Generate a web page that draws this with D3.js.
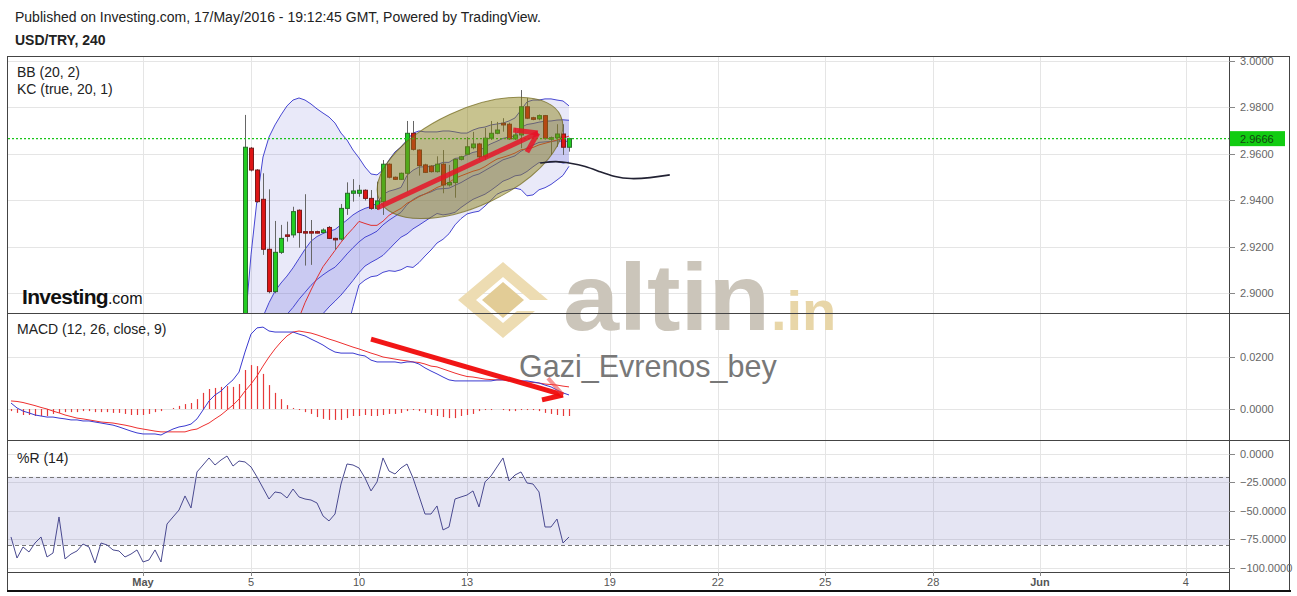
<!DOCTYPE html>
<html><head><meta charset="utf-8">
<script src="https://cdn.jsdelivr.net/npm/d3@7"></script>
<style>
html,body{margin:0;padding:0;background:#fff;}
svg{display:block;font-family:Arial,"Liberation Sans",sans-serif;}
</style></head><body>
<svg id="c" width="1297" height="596"></svg>
<script>
// ---------- DATA ----------
const dateTickIdx = [22, 40, 58, 76, 99.8, 117.8, 135.7, 153.7, 171.5, 195.8];
const dateTickLabels = ["May", "5", "10", "13", "19", "22", "25", "28", "Jun", "4"];
const boldDateTicks = ["May", "Jun"];
const priceTicks = [2.90, 2.92, 2.94, 2.96, 2.98, 3.00];
const macdTicks = [0, 0.02];
const wrTicks = [0, -25, -50, -75, -100];
const lastPrice = 2.9666;

const candleStart = 39;
const cOpen = [2.8700,2.9625,2.9531,2.9405,2.9190,2.9008,2.9177,2.9252,2.9252,2.9358,2.9266,2.9266,2.9266,2.9262,2.9284,2.9237,2.9234,2.9366,2.9431,2.9431,2.9444,2.9409,2.9366,2.9395,2.9556,2.9500,2.9491,2.9517,2.9689,2.9617,2.9553,2.9548,2.9524,2.9556,2.9467,2.9477,2.9577,2.9599,2.9627,2.9643,2.9588,2.9668,2.9689,2.9732,2.9728,2.9665,2.9682,2.9803,2.9756,2.9751,2.9765,2.9665,2.9670,2.9686,2.9629];
const cHigh = [2.9768,2.9630,2.9535,2.9517,2.9448,2.9312,2.9295,2.9309,2.9373,2.9362,2.9427,2.9316,2.9270,2.9280,2.9290,2.9240,2.9385,2.9478,2.9492,2.9467,2.9448,2.9445,2.9481,2.9574,2.9560,2.9503,2.9520,2.9742,2.9742,2.9620,2.9558,2.9552,2.9590,2.9617,2.9553,2.9580,2.9592,2.9673,2.9695,2.9648,2.9712,2.9742,2.9738,2.9754,2.9735,2.9712,2.9875,2.9840,2.9760,2.9770,2.9768,2.9675,2.9728,2.9728,2.9670];
const cLow = [2.8680,2.9525,2.9390,2.9166,2.9001,2.9001,2.9170,2.9223,2.9240,2.9197,2.9120,2.9123,2.9258,2.9258,2.9234,2.9187,2.9228,2.9338,2.9395,2.9416,2.9400,2.9360,2.9359,2.9338,2.9495,2.9488,2.9488,2.9438,2.9615,2.9507,2.9518,2.9520,2.9520,2.9431,2.9460,2.9412,2.9572,2.9595,2.9620,2.9575,2.9574,2.9660,2.9685,2.9696,2.9660,2.9660,2.9625,2.9750,2.9745,2.9745,2.9662,2.9596,2.9631,2.9596,2.9610];
const cClose = [2.9629,2.9531,2.9395,2.9190,2.9008,2.9177,2.9237,2.9250,2.9352,2.9262,2.9264,2.9262,2.9262,2.9273,2.9237,2.9234,2.9366,2.9431,2.9441,2.9444,2.9409,2.9366,2.9398,2.9556,2.9500,2.9491,2.9517,2.9689,2.9620,2.9550,2.9521,2.9524,2.9556,2.9467,2.9477,2.9577,2.9588,2.9631,2.9643,2.9588,2.9668,2.9689,2.9703,2.9725,2.9665,2.9682,2.9803,2.9754,2.9749,2.9765,2.9668,2.9670,2.9686,2.9629,2.9666];

// Bollinger (20,2): upper, basis (red), lower; bars 39..93
const bbUpper = [2.8860,2.9166,2.9402,2.9587,2.9673,2.9725,2.9768,2.9807,2.9832,2.9841,2.9832,2.9815,2.9794,2.9776,2.9759,2.9733,2.9690,2.9660,2.9617,2.9583,2.9544,2.9514,2.9510,2.9531,2.9574,2.9609,2.9630,2.9660,2.9690,2.9699,2.9695,2.9695,2.9695,2.9699,2.9699,2.9695,2.9690,2.9690,2.9703,2.9712,2.9716,2.9725,2.9729,2.9733,2.9742,2.9755,2.9789,2.9824,2.9832,2.9832,2.9837,2.9837,2.9832,2.9828,2.9807];
const bbBasis = [2.8660,2.8705,2.8740,2.8760,2.8770,2.8790,2.8810,2.8830,2.8860,2.8895,2.8960,2.9015,2.9067,2.9115,2.9150,2.9185,2.9220,2.9252,2.9280,2.9310,2.9301,2.9293,2.9293,2.9311,2.9336,2.9352,2.9366,2.9388,2.9401,2.9416,2.9428,2.9441,2.9456,2.9466,2.9478,2.9495,2.9506,2.9516,2.9526,2.9533,2.9546,2.9563,2.9578,2.9586,2.9594,2.9604,2.9618,2.9622,2.9628,2.9639,2.9646,2.9653,2.9660,2.9668,2.9677];
const bbLower = [2.8380,2.8150,2.8000,2.7900,2.7850,2.7800,2.7780,2.7780,2.7800,2.7950,2.8090,2.8215,2.8340,2.8454,2.8541,2.8637,2.8750,2.8844,2.8943,2.9037,2.9058,2.9072,2.9076,2.9091,2.9098,2.9095,2.9102,2.9116,2.9112,2.9133,2.9161,2.9187,2.9217,2.9233,2.9257,2.9295,2.9322,2.9342,2.9349,2.9354,2.9376,2.9401,2.9427,2.9439,2.9446,2.9453,2.9447,2.9420,2.9424,2.9446,2.9455,2.9469,2.9488,2.9508,2.9547];
// Keltner (true,20,1): upper, middle, lower; bars 39..93
const kcUpper = [2.8700,2.8780,2.8840,2.8900,2.8960,2.9010,2.9045,2.9075,2.9110,2.9150,2.9190,2.9225,2.9245,2.9258,2.9268,2.9275,2.9296,2.9316,2.9338,2.9354,2.9366,2.9374,2.9388,2.9426,2.9440,2.9447,2.9456,2.9508,2.9530,2.9544,2.9545,2.9546,2.9554,2.9564,2.9564,2.9581,2.9584,2.9596,2.9607,2.9612,2.9631,2.9644,2.9655,2.9667,2.9673,2.9678,2.9714,2.9727,2.9731,2.9737,2.9741,2.9742,2.9746,2.9747,2.9745];
const kcMid = [2.8650,2.8720,2.8770,2.8800,2.8820,2.8850,2.8880,2.8910,2.8940,2.8975,2.9005,2.9035,2.9060,2.9080,2.9098,2.9113,2.9140,2.9170,2.9197,2.9222,2.9242,2.9254,2.9268,2.9295,2.9315,2.9332,2.9349,2.9382,2.9404,2.9419,2.9428,2.9437,2.9449,2.9451,2.9453,2.9465,2.9477,2.9492,2.9506,2.9514,2.9529,2.9544,2.9559,2.9575,2.9583,2.9592,2.9612,2.9626,2.9638,2.9650,2.9652,2.9654,2.9657,2.9654,2.9655];
const kcLower = [2.8474,2.8551,2.8603,2.8615,2.8610,2.8630,2.8669,2.8711,2.8747,2.8785,2.8804,2.8835,2.8878,2.8913,2.8942,2.8967,2.8993,2.9024,2.9056,2.9090,2.9118,2.9134,2.9148,2.9164,2.9190,2.9217,2.9242,2.9256,2.9278,2.9294,2.9311,2.9328,2.9344,2.9338,2.9342,2.9349,2.9370,2.9388,2.9405,2.9416,2.9427,2.9444,2.9463,2.9483,2.9493,2.9506,2.9510,2.9525,2.9545,2.9563,2.9563,2.9566,2.9568,2.9561,2.9565];

// MACD (12,26,close,9), bars 0..93
const macdLine = [0.0023,0.0004,-0.0008,-0.0015,-0.0023,-0.0027,-0.0031,-0.0031,-0.0035,-0.0038,-0.0042,-0.0042,-0.0046,-0.0046,-0.0050,-0.0054,-0.0058,-0.0062,-0.0069,-0.0077,-0.0085,-0.0092,-0.0096,-0.0096,-0.0096,-0.0100,-0.0088,-0.0077,-0.0069,-0.0065,-0.0058,-0.0038,-0.0004,0.0031,0.0054,0.0069,0.0092,0.0112,0.0142,0.0219,0.0288,0.0312,0.0315,0.0300,0.0296,0.0296,0.0296,0.0296,0.0288,0.0281,0.0269,0.0258,0.0246,0.0231,0.0219,0.0215,0.0215,0.0215,0.0208,0.0204,0.0188,0.0181,0.0181,0.0181,0.0181,0.0177,0.0181,0.0181,0.0173,0.0158,0.0146,0.0135,0.0123,0.0112,0.0108,0.0108,0.0108,0.0108,0.0108,0.0108,0.0108,0.0112,0.0112,0.0112,0.0108,0.0108,0.0108,0.0104,0.0100,0.0092,0.0085,0.0073,0.0062,0.0054];
const signalLine = [0.0031,0.0029,0.0025,0.0019,0.0013,0.0006,0.0000,-0.0008,-0.0015,-0.0023,-0.0029,-0.0035,-0.0038,-0.0042,-0.0046,-0.0050,-0.0052,-0.0054,-0.0058,-0.0062,-0.0067,-0.0073,-0.0077,-0.0081,-0.0085,-0.0088,-0.0088,-0.0088,-0.0088,-0.0088,-0.0081,-0.0077,-0.0065,-0.0054,-0.0038,-0.0023,-0.0004,0.0015,0.0038,0.0069,0.0096,0.0127,0.0165,0.0200,0.0231,0.0258,0.0281,0.0296,0.0300,0.0296,0.0292,0.0285,0.0277,0.0269,0.0262,0.0254,0.0246,0.0238,0.0231,0.0223,0.0215,0.0208,0.0200,0.0196,0.0192,0.0188,0.0185,0.0181,0.0179,0.0173,0.0165,0.0162,0.0154,0.0146,0.0138,0.0131,0.0125,0.0123,0.0119,0.0115,0.0113,0.0112,0.0112,0.0110,0.0108,0.0106,0.0104,0.0102,0.0100,0.0096,0.0094,0.0092,0.0088,0.0085];
const macdHist = [-0.0008,-0.0015,-0.0023,-0.0023,-0.0027,-0.0027,-0.0027,-0.0019,-0.0015,-0.0012,-0.0012,-0.0012,-0.0008,-0.0008,-0.0012,-0.0012,-0.0012,-0.0015,-0.0015,-0.0019,-0.0023,-0.0023,-0.0023,-0.0019,-0.0012,-0.0008,0.0000,0.0004,0.0012,0.0019,0.0023,0.0038,0.0062,0.0077,0.0081,0.0085,0.0088,0.0085,0.0096,0.0150,0.0169,0.0165,0.0135,0.0092,0.0062,0.0038,0.0015,0.0004,-0.0004,-0.0012,-0.0019,-0.0031,-0.0038,-0.0042,-0.0042,-0.0042,-0.0035,-0.0027,-0.0027,-0.0023,-0.0027,-0.0027,-0.0023,-0.0019,-0.0019,-0.0015,-0.0008,-0.0004,-0.0008,-0.0015,-0.0023,-0.0027,-0.0031,-0.0035,-0.0035,-0.0027,-0.0023,-0.0019,-0.0008,-0.0004,-0.0004,0.0000,-0.0004,-0.0008,-0.0008,-0.0004,-0.0004,-0.0004,-0.0008,-0.0015,-0.0019,-0.0023,-0.0027,-0.0027];

// Williams %R (14), bars 0..93
const williamsR = [-73.0,-91.5,-81.8,-86.2,-78.3,-73.0,-90.6,-87.1,-55.4,-92.3,-88.0,-85.3,-79.2,-81.8,-95.9,-78.3,-80.0,-84.4,-85.3,-90.6,-88.0,-84.4,-95.0,-93.2,-84.4,-95.0,-61.6,-55.4,-49.3,-36.9,-47.5,-15.8,-9.7,-3.5,-9.7,-5.3,-1.8,-10.6,-6.2,-7.0,-11.4,-20.2,-29.9,-39.6,-33.4,-34.3,-38.7,-30.8,-37.8,-39.6,-40.5,-43.1,-54.5,-58.9,-52.8,-26.4,-8.8,-9.7,-12.3,-21.1,-32.5,-24.6,-3.5,-15.0,-17.6,-12.3,-8.8,-21.1,-36.9,-52.8,-52.8,-45.7,-66.8,-64.2,-39.6,-37.8,-36.1,-32.5,-46.6,-24.6,-19.3,-11.4,-3.5,-23.7,-18.5,-15.8,-25.5,-26.4,-33.4,-64.2,-64.2,-57.2,-78.3,-73.0];
const wrBand = [-20, -80];

// Hand-drawn annotations (bar index, value)
const priceArrow = [[61.0, 2.9368], [87.8, 2.9690]];
const priceArrowHeads = [[[83.7, 2.9703], [87.8, 2.9690]], [[86.0, 2.9608], [87.8, 2.9690]]];
const macdArrow = [[60.0, 0.0269], [92.0, 0.0054]];
const macdArrowHeads = [[[88.5, 0.0035], [92.0, 0.0054]], [[89.5, 0.0119], [92.0, 0.0054]]];
const projection = [[88.2, 2.9561], [90.8, 2.9570], [93.2, 2.9561], [95.7, 2.9548], [98.2, 2.9523], [100.7, 2.9501], [103.2, 2.9492], [106.5, 2.9497], [109.8, 2.9510]];
const ellipseCenter = [76.5, 2.9583];

// ---------- LAYOUT ----------
const svg = d3.select('#c');
const L = 8, R = 1229, FR = 1290, TOP = 56, BOT = 591;
const PP = [56, 313], MP = [313, 440], WP = [440, 572];
const x = d3.scaleLinear().domain([-0.5, 203]).range([L, R]);
const yP = d3.scaleLinear().domain([2.8916, 3.00215]).range([PP[1], PP[0]]);
const yM = d3.scaleLinear().domain([-0.011923, 0.036923]).range([MP[1], MP[0]]);
const yR = d3.scaleLinear().domain([-103.8, 12.3]).range([WP[1], WP[0]]);

const defs = svg.append('defs');
[['cp', PP], ['cm', MP], ['cw', WP]].forEach(([id, p]) => {
  defs.append('clipPath').attr('id', id).append('rect').attr('x', L).attr('y', p[0]).attr('width', R - L).attr('height', p[1] - p[0]);
});
svg.append('rect').attr('width', 1297).attr('height', 596).attr('fill', '#fff');

// header
svg.append('text').attr('x', 15).attr('y', 22).attr('font-size', 14).attr('fill', '#222')
  .text('Published on Investing.com, 17/May/2016 - 19:12:45 GMT, Powered by TradingView.');
svg.append('text').attr('x', 15).attr('y', 45).attr('font-size', 14).attr('font-weight', 'bold').attr('fill', '#222')
  .text('USD/TRY, 240');

// grid
const grid = svg.append('g').style('stroke', '#e5e5e5').attr('stroke-width', 1).attr('shape-rendering', 'crispEdges');
priceTicks.forEach(t => grid.append('line').attr('x1', L).attr('x2', R).attr('y1', Math.round(yP(t)) + 0.5).attr('y2', Math.round(yP(t)) + 0.5));
macdTicks.forEach(t => grid.append('line').attr('x1', L).attr('x2', R).attr('y1', Math.round(yM(t)) + 0.5).attr('y2', Math.round(yM(t)) + 0.5));
wrTicks.forEach(t => grid.append('line').attr('x1', L).attr('x2', R).attr('y1', Math.round(yR(t)) + 0.5).attr('y2', Math.round(yR(t)) + 0.5));
dateTickIdx.forEach(t => grid.append('line').attr('x1', Math.round(x(t)) + 0.5).attr('x2', Math.round(x(t)) + 0.5).attr('y1', TOP).attr('y2', WP[1]));

// %R band
const gw = svg.append('g').attr('clip-path', 'url(#cw)');
gw.append('rect').attr('x', L).attr('width', R - L).attr('y', yR(wrBand[0])).attr('height', yR(wrBand[1]) - yR(wrBand[0]))
  .style('fill', 'rgba(110,110,190,0.18)');
wrBand.forEach(v => gw.append('line').attr('x1', L).attr('x2', R).attr('y1', Math.round(yR(v)) + 0.5).attr('y2', Math.round(yR(v)) + 0.5)
  .style('stroke', '#777').attr('stroke-dasharray', '4,3'));

// watermark
const wm = svg.append('g');
wm.append('polygon').attr('points', '458,300 503,262 548,300 530,300 503,277 476,300 503,323 517,311 535,311 503,338').style('fill', '#eddcb2');
wm.append('polygon').attr('points', '482,300 503,282 524,300 503,318').style('fill', '#e2cc96');
wm.append('text').attr('x', 563).attr('y', 330).attr('font-size', 94).attr('font-weight', 'bold').style('fill', '#cbc5ba')
  .attr('textLength', 207).attr('lengthAdjust', 'spacingAndGlyphs').text('altin');
wm.append('text').attr('x', 771).attr('y', 330).attr('font-size', 56).attr('font-weight', 'bold').style('fill', '#e8d6a8')
  .text('.in');
wm.append('text').attr('x', 519).attr('y', 377).attr('font-size', 30.5).style('fill', '#787878').text('Gazi_Evrenos_bey');

// price panel
const gp = svg.append('g').attr('clip-path', 'url(#cp)');
const bi = k => candleStart + k;
const band = (lo) => d3.area().x((d, k) => x(bi(k))).y0((d, k) => yP(lo[k])).y1(d => yP(d));
gp.append('path').attr('d', band(bbLower)(bbUpper)).style('fill', 'rgba(100,100,210,0.14)');
gp.append('path').attr('d', band(kcLower)(kcUpper)).style('fill', 'rgba(80,80,215,0.20)');
const lineP = d3.line().x((d, k) => x(bi(k))).y(d => yP(d));
[bbUpper, bbLower, kcUpper, kcMid, kcLower].forEach(a => gp.append('path').attr('d', lineP(a)).style('fill', 'none').style('stroke', '#4646d2').attr('stroke-width', 1));
gp.append('path').attr('d', lineP(bbBasis)).style('fill', 'none').style('stroke', '#e03030').attr('stroke-width', 1);

// candles
const cIdx = d3.range(cOpen.length);
gp.selectAll('line.wick').data(cIdx).join('line').attr('class', 'wick')
  .attr('x1', k => x(bi(k)) + 0.5).attr('x2', k => x(bi(k)) + 0.5)
  .attr('y1', k => yP(cHigh[k])).attr('y2', k => yP(cLow[k]))
  .style('stroke', '#666').attr('stroke-width', 1);
gp.selectAll('rect.body').data(cIdx).join('rect').attr('class', 'body')
  .attr('x', k => x(bi(k)) - 1.5).attr('width', 4)
  .attr('y', k => yP(Math.max(cOpen[k], cClose[k])))
  .attr('height', k => Math.max(1.5, Math.abs(yP(cOpen[k]) - yP(cClose[k]))))
  .style('fill', k => cClose[k] >= cOpen[k] ? '#22cc22' : '#dd1515')
  .style('stroke', k => cClose[k] >= cOpen[k] ? '#2a6e2a' : '#7a1a1a').attr('stroke-width', 1);

// last price line
gp.append('line').attr('x1', L).attr('x2', R).attr('y1', yP(lastPrice)).attr('y2', yP(lastPrice))
  .style('stroke', '#19c519').attr('stroke-width', 1.3).attr('stroke-dasharray', '2,2');

// ellipse annotation
gp.append('ellipse').attr('cx', x(ellipseCenter[0])).attr('cy', yP(ellipseCenter[1])).attr('rx', 100).attr('ry', 48)
  .attr('transform', `rotate(-25 ${x(ellipseCenter[0])} ${yP(ellipseCenter[1])})`)
  .style('fill', 'rgba(140,130,20,0.48)').style('stroke', 'rgba(110,100,20,0.7)').attr('stroke-width', 1);

// arrows
const lp = d3.line().x(d => x(d[0])).y(d => yP(d[1]));
gp.append('path').attr('d', lp(priceArrow)).style('stroke', 'rgba(230,20,40,0.85)').attr('stroke-width', 5).style('fill', 'none');
priceArrowHeads.forEach(h => gp.append('path').attr('d', lp(h)).style('stroke', 'rgba(230,20,40,0.85)').attr('stroke-width', 5).style('fill', 'none'));
gp.append('path').attr('d', d3.line().x(d => x(d[0])).y(d => yP(d[1])).curve(d3.curveBasis)(projection))
  .style('stroke', '#222233').attr('stroke-width', 1.6).style('fill', 'none');

// MACD panel
const gm = svg.append('g').attr('clip-path', 'url(#cm)');
gm.selectAll('line.hist').data(macdHist).join('line').attr('class', 'hist')
  .attr('x1', (d, i) => x(i) + 0.5).attr('x2', (d, i) => x(i) + 0.5)
  .attr('y1', yM(0)).attr('y2', d => yM(d)).style('stroke', '#e63a3a').attr('stroke-width', 1.2);
const lm = d3.line().x((d, i) => x(i)).y(d => yM(d));
gm.append('path').attr('d', lm(signalLine)).style('fill', 'none').style('stroke', '#ee3030').attr('stroke-width', 1);
gm.append('path').attr('d', lm(macdLine)).style('fill', 'none').style('stroke', '#3a3ad0').attr('stroke-width', 1);
const lma = d3.line().x(d => x(d[0])).y(d => yM(d[1]));
gm.append('path').attr('d', lma(macdArrow)).style('stroke', 'rgba(240,10,10,0.95)').attr('stroke-width', 5).style('fill', 'none');
gm.append('path').attr('d', lma(macdArrowHeads[0])).style('stroke', 'rgba(240,10,10,0.95)').attr('stroke-width', 5).style('fill', 'none');
gm.append('path').attr('d', lma(macdArrowHeads[1])).style('stroke', 'rgba(240,60,60,0.55)').attr('stroke-width', 4).style('fill', 'none');

// %R line
gw.append('path').attr('d', d3.line().x((d, i) => x(i)).y(d => yR(d))(williamsR))
  .style('fill', 'none').style('stroke', '#4a4a90').attr('stroke-width', 1);

// panel labels
const lab = (t, y) => svg.append('text').attr('x', 17).attr('y', y).attr('font-size', 14).style('fill', '#222').text(t);
lab('BB (20, 2)', 77); lab('KC (true, 20, 1)', 94); lab('MACD (12, 26, close, 9)', 334); lab('%R (14)', 463);

// Investing.com logo
const inv = svg.append('text').attr('x', 22).attr('y', 304).style('fill', '#111');
inv.append('tspan').attr('font-size', 21).attr('font-weight', 'bold').attr('letter-spacing', -0.7).text('Investing');
inv.append('tspan').attr('font-size', 16).text('.com');

// frame & separators
const fr = svg.append('g').style('stroke', '#444').style('fill', 'none').attr('shape-rendering', 'crispEdges');
fr.append('rect').attr('x', L - 0.5).attr('y', TOP + 0.5).attr('width', FR - L).attr('height', BOT - TOP);
fr.append('line').attr('x1', R + 0.5).attr('x2', R + 0.5).attr('y1', TOP).attr('y2', BOT);
[PP[1], MP[1]].forEach(y => fr.append('line').attr('x1', L).attr('x2', FR).attr('y1', y + 0.5).attr('y2', y + 0.5));
fr.append('line').attr('x1', L).attr('x2', R).attr('y1', WP[1] + 0.5).attr('y2', WP[1] + 0.5);
svg.append('line').attr('x1', L - 1).attr('x2', FR + 1).attr('y1', BOT).attr('y2', BOT).style('stroke', '#111').attr('stroke-width', 2);

// right axis
const ax = svg.append('g').attr('font-size', 11).style('fill', '#666');
const tickMark = y => svg.append('line').attr('x1', R).attr('x2', R + 6).attr('y1', Math.round(y) + 0.5).attr('y2', Math.round(y) + 0.5).style('stroke', '#888');
priceTicks.forEach(t => { tickMark(yP(t)); ax.append('text').attr('x', 1240).attr('y', yP(t) + 4).text(d3.format('.4f')(t)); });
macdTicks.forEach(t => { tickMark(yM(t)); ax.append('text').attr('x', 1240).attr('y', yM(t) + 4).text(d3.format('.4f')(t)); });
wrTicks.forEach(t => { tickMark(yR(t)); ax.append('text').attr('x', 1240).attr('y', yR(t) + 4).text(d3.format('.4f')(t)); });

// last price label
svg.append('rect').attr('x', 1230).attr('y', yP(lastPrice) - 7.5).attr('width', 55).attr('height', 15).style('fill', '#11cc11');
svg.append('text').attr('x', 1240).attr('y', yP(lastPrice) + 4).attr('font-size', 11).style('fill', '#114411').text(d3.format('.4f')(lastPrice));

// bottom axis
dateTickIdx.forEach((t, i) => {
  svg.append('line').attr('x1', Math.round(x(t)) + 0.5).attr('x2', Math.round(x(t)) + 0.5).attr('y1', WP[1]).attr('y2', WP[1] + 4).style('stroke', '#888');
  svg.append('text').attr('x', x(t)).attr('y', 586).attr('text-anchor', 'middle').attr('font-size', 11)
    .attr('font-weight', boldDateTicks.includes(dateTickLabels[i]) ? 'bold' : 'normal').style('fill', '#555').text(dateTickLabels[i]);
});
</script></body></html>
